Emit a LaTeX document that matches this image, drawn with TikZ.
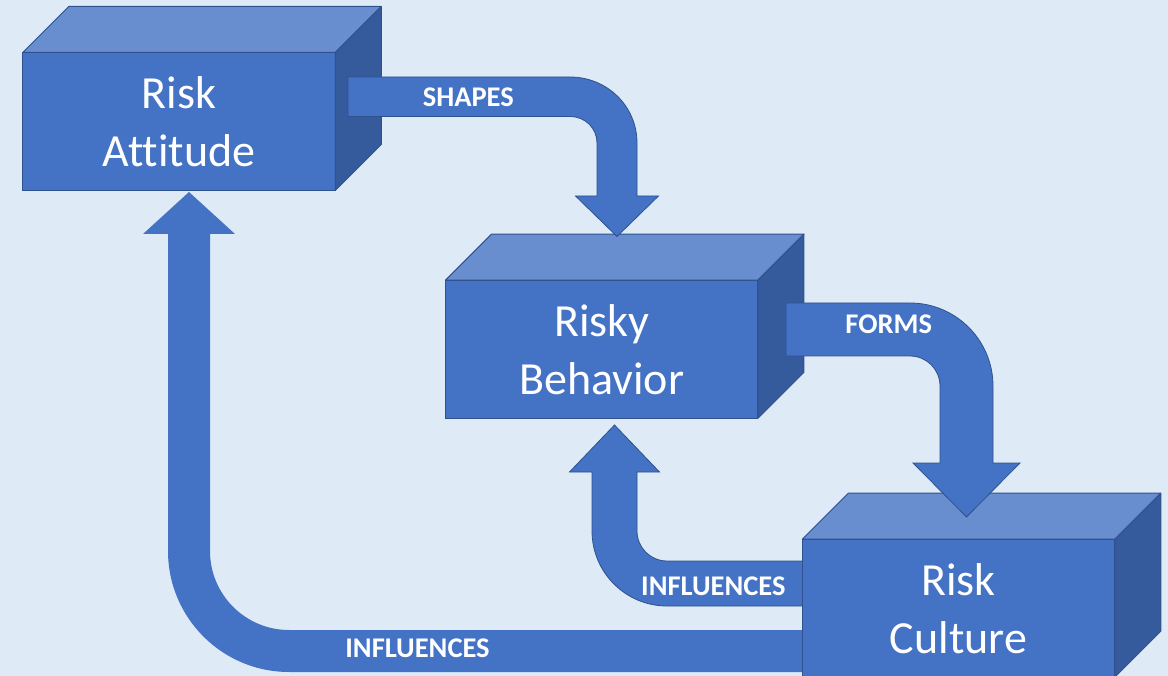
\documentclass[tikz,border=0pt]{standalone}
\usepackage{fontspec}
\setmainfont{Carlito}[Ligatures=NoCommon]
\usetikzlibrary{calc}
\definecolor{bg}{HTML}{DEEBF7}
\definecolor{face}{HTML}{4472C4}
\definecolor{facetop}{HTML}{698ED0}
\definecolor{faceside}{HTML}{365B9D}
\definecolor{edge}{HTML}{2F528F}

% top and right faces of a cube whose front face is the node #1
\newcommand\cubefaces[1]{%
  \filldraw[topface] (#1.north west) -- ++(46,-46) -- ++(312.5,0) -- (#1.north east) -- cycle;
  \filldraw[sideface] (#1.north east) -- ++(46,-46) -- ++(0,138) -- (#1.south east) -- cycle;
}

\begin{document}
\begin{tikzpicture}[x=1pt,y=-1pt,
  front/.style={draw=edge, fill=face, line width=1pt, inner sep=0pt, outer sep=0pt,
    minimum width=312.5pt, minimum height=138pt, text=white, align=center,
    font=\fontsize{46}{58}\selectfont},
  topface/.style={draw=edge, fill=facetop, line width=1pt, line join=round},
  sideface/.style={draw=edge, fill=faceside, line width=1pt, line join=round},
  blockarrow/.style={draw=edge, fill=face, line width=0.8pt},
  plainarrow/.style={fill=face},
  tag/.style={text=white, font=\fontsize{28.5}{30}\selectfont\bfseries, inner sep=0pt, anchor=base}]

\useasboundingbox (0,0) rectangle (1168,676);
\fill[bg] (0,0) rectangle (1168,676);

% long feedback arrow: Risk Culture -> Risk Attitude
\fill[plainarrow] (805,630) -- (289,630)
  .. controls (245.4,630) and (210,594.6) .. (210,551)
  -- (210,234) -- (235,234) -- (189,192) -- (143,234) -- (168,234) -- (168,551)
  .. controls (168,617.8) and (222.2,672) .. (289,672)
  -- (805,672) -- cycle;

% short feedback arrow: Risk Culture -> Risky Behavior
\filldraw[blockarrow] (805,561) -- (667,561)
  .. controls (650.4,561) and (637,547.6) .. (637,531)
  -- (637,472) -- (659.5,472) -- (614.5,425) -- (569.5,472) -- (592,472) -- (592,531)
  .. controls (592,572.4) and (625.6,606) .. (667,606)
  -- (805,606) -- cycle;

% cubes
\node[front] (att) at (179,121.5) {Risk\\Attitude};
\cubefaces{att}
\node[front] (beh) at (601.7,349.2) {Risky\\Behavior};
\cubefaces{beh}
\node[front] (cul) at (958.5,608.2) {Risk\\Culture};
\cubefaces{cul}

% Risk Attitude -> Risky Behavior
\filldraw[blockarrow] (348,77) -- (570,77)
  .. controls (607,77) and (637,106) .. (637,143)
  -- (637,196) -- (658.5,196) -- (617,236.5) -- (575.5,196) -- (597,196) -- (597,143)
  .. controls (597,128) and (585,116.5) .. (570,116.5)
  -- (348,116.5) -- cycle;

% Risky Behavior -> Risk Culture
\filldraw[blockarrow] (786,303) -- (910,303)
  .. controls (955.8,303) and (993,340.2) .. (993,386)
  -- (993,463) -- (1020,463) -- (966.5,517) -- (913,463) -- (940,463) -- (940,386)
  .. controls (940,369.4) and (926.6,356) .. (910,356)
  -- (786,356) -- cycle;

% arrow labels
\node[tag] (lshapes) at (468.3,106.7) {SHAPES};
\node[tag] (lforms) at (888.7,333.3) {FORMS};
\node[tag] (linfa) at (713.3,595) {INFLUENCES};
\node[tag] (linfb) at (417.5,657.3) {INFLUENCES};
\end{tikzpicture}
\end{document}
